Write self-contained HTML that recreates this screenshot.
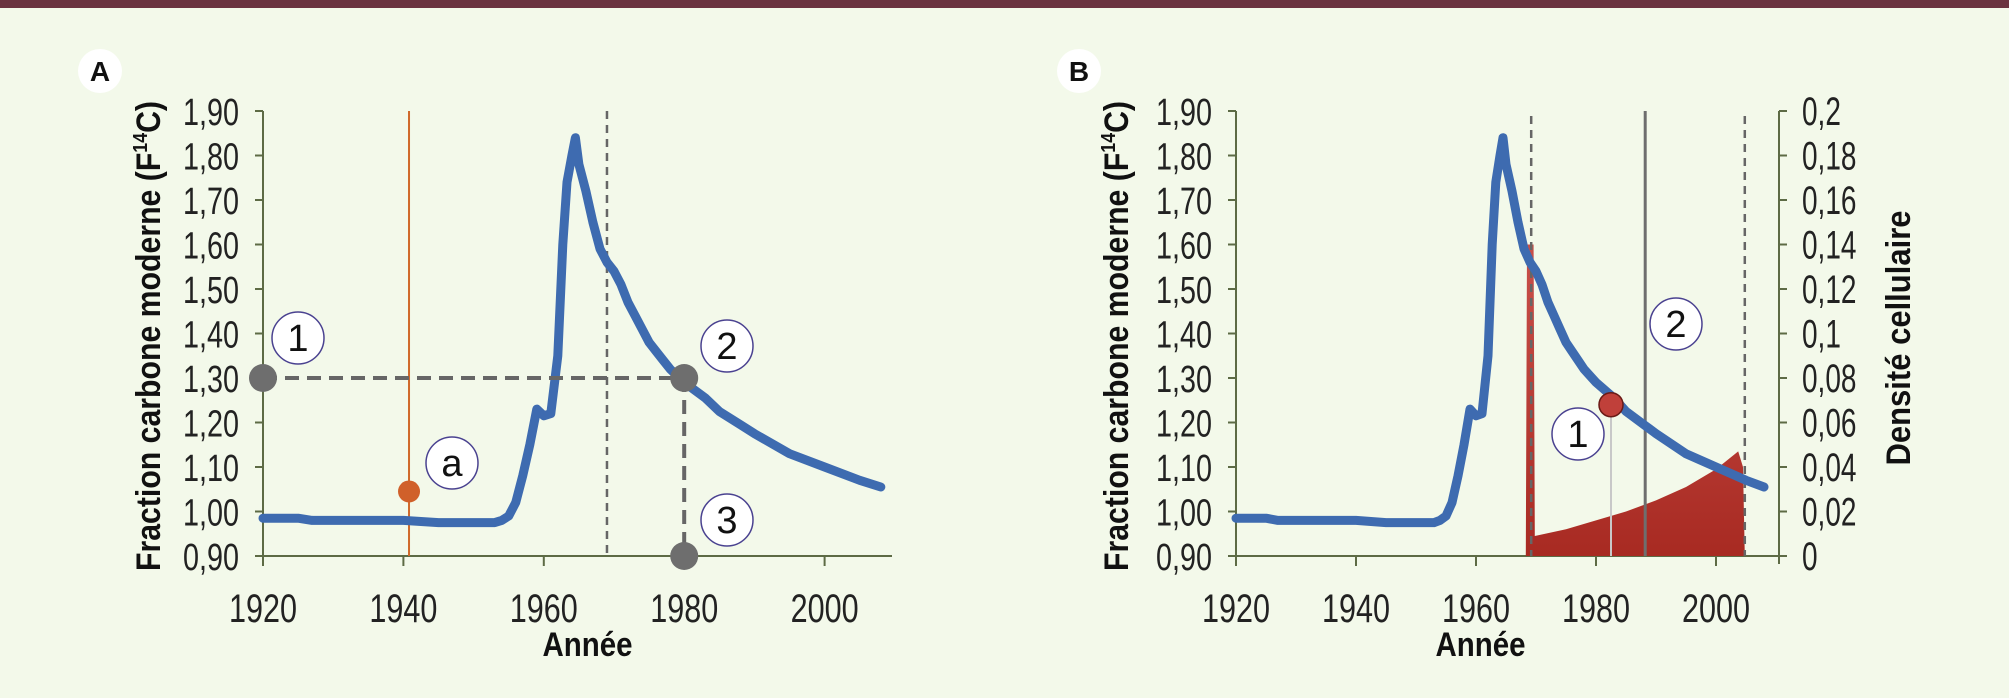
<!DOCTYPE html>
<html><head><meta charset="utf-8"><style>
html,body{margin:0;padding:0;background:#f3f9ea;}
svg{display:block;}
text{font-family:"Liberation Sans Narrow","Liberation Sans",sans-serif;}
</style></head><body>
<svg id="fig" width="2009" height="698" viewBox="0 0 2009 698" xmlns="http://www.w3.org/2000/svg">
<rect x="0" y="0" width="2009" height="698" fill="#f3f9ea"/>
<rect x="0" y="0" width="2009" height="8" fill="#6b3440"/>
</svg>
<script>
const years=[1920,1925,1927,1935,1940,1945,1950,1953,1954,1955,1956,1957,1958,1959,1960,1961,1962,1962.7,1963.3,1964,1964.5,1965,1966,1967,1968,1969,1970,1971,1972,1973,1974,1975,1976,1977,1978,1980,1983,1985,1988,1990,1995,2000,2005,2008];
const f14c=[0.985,0.985,0.98,0.98,0.98,0.975,0.975,0.975,0.98,0.99,1.02,1.08,1.15,1.23,1.215,1.22,1.35,1.60,1.74,1.80,1.84,1.78,1.72,1.65,1.59,1.56,1.54,1.51,1.47,1.44,1.41,1.38,1.36,1.34,1.32,1.29,1.255,1.225,1.195,1.175,1.13,1.10,1.07,1.055];
const densYears=[1968.3,1968.5,1969.6,1969.8,1975,1980,1985,1990,1995,2000,2003.7,2004.5,2004.8];
const densVals=[0,0.14,0.14,0.009,0.012,0.016,0.02,0.025,0.031,0.039,0.047,0.04,0];
const yTicks=["0,90","1,00","1,10","1,20","1,30","1,40","1,50","1,60","1,70","1,80","1,90"];
const yTickVals=[0.9,1.0,1.1,1.2,1.3,1.4,1.5,1.6,1.7,1.8,1.9];
const xTicks=[1920,1940,1960,1980,2000];
const rTicks=["0","0,02","0,04","0,06","0,08","0,1","0,12","0,14","0,16","0,18","0,2"];
const rTickVals=[0,0.02,0.04,0.06,0.08,0.1,0.12,0.14,0.16,0.18,0.2];

const NS="http://www.w3.org/2000/svg";
const svg=document.getElementById('fig');
function mk(tag,attrs,parent,txt){const e=document.createElementNS(NS,tag);for(const k in attrs)e.setAttribute(k,attrs[k]);if(txt!==undefined)e.textContent=txt;(parent||svg).appendChild(e);return e;}
const AX="#5d6b45";
const Y0=556,Y1=111;
function yS(v){return Y0-(v-0.9)/1.0*(Y0-Y1);}
function yR(v){return Y0-v/0.2*(Y0-Y1);}

function panel(name,x0,pxy,xEnd,rightAxis){
  const g=mk('g',{});
  
  
  const xS=y=>x0+(y-1920)*pxy;
  const ya=mk('line',{x1:x0,y1:Y1,x2:x0,y2:Y0+8,stroke:AX,'stroke-width':2},g);
  
  const xa=mk('line',{x1:x0-8,y1:Y0,x2:xEnd,y2:Y0,stroke:AX,'stroke-width':2},g);
  
  yTickVals.forEach((v,i)=>{
    mk('line',{x1:x0-8,y1:yS(v),x2:x0,y2:yS(v),stroke:AX,'stroke-width':2},g);
    const t=mk('text',{x:x0-24,y:yS(v)+14,'text-anchor':'end','font-size':38,fill:'#222',textLength:56,lengthAdjust:'spacingAndGlyphs'},g,yTicks[i]);
    
  });
  xTicks.forEach(v=>{
    mk('line',{x1:xS(v),y1:Y0,x2:xS(v),y2:Y0+10,stroke:AX,'stroke-width':2},g);
    const t=mk('text',{x:xS(v),y:622,'text-anchor':'middle','font-size':40,fill:'#222',textLength:68,lengthAdjust:'spacingAndGlyphs'},g,String(v));
    
  });
  const xt=mk('text',{x:(x0+xEnd)/2+(rightAxis?-30:10),y:656,'text-anchor':'middle','font-size':34,'font-weight':'bold',fill:'#111',textLength:90,lengthAdjust:'spacingAndGlyphs'},g,'Année');
  
  const tx=rightAxis?1116:148;
  const yt=mk('text',{x:0,y:0,transform:`translate(${tx+12},336) rotate(-90)`,'text-anchor':'middle','font-size':34,'font-weight':'bold',fill:'#111',textLength:470,lengthAdjust:'spacingAndGlyphs'},g);
  
  yt.appendChild(document.createTextNode('Fraction carbone moderne (F'));
  mk('tspan',{'font-size':20,dy:-13},yt,'14');
  mk('tspan',{dy:13},yt,'C)');
  return {g,xS};
}

function curve(g,xS){
  const d=years.map((y,i)=>(i?'L':'M')+xS(y).toFixed(1)+','+yS(f14c[i]).toFixed(1)).join(' ');
  const p=mk('path',{d,fill:'none',stroke:'#3e6bb0','stroke-width':9,'stroke-linejoin':'round','stroke-linecap':'round'},g);
  
}
function circLabel(g,cx,cy,txt,name){
  const c=mk('circle',{cx,cy,r:26,fill:'#fff',stroke:'#4a4290','stroke-width':1.5},g);
  
  mk('text',{x:cx,y:cy+13,'text-anchor':'middle','font-size':38,fill:'#111'},g,txt);
}
function panelLetter(cx,txt){
  const c=mk('circle',{cx,cy:71,r:22,fill:'#fff'});
  
  mk('text',{x:cx,y:81,'text-anchor':'middle','font-size':28,'font-weight':'bold',fill:'#111'},svg,txt);
}

// Panel A
panelLetter(100,'A');
const A=panel('a',263,7.02,892,false);
const gA=A.g,xA=A.xS;
let l=mk('line',{x1:xA(1940.8),y1:Y1,x2:xA(1940.8),y2:Y0,stroke:'#d0692a','stroke-width':2},gA);

l=mk('line',{x1:xA(1969),y1:Y1,x2:xA(1969),y2:Y0,stroke:'#666','stroke-width':2.5,'stroke-dasharray':'8,6'},gA);

curve(gA,xA);
l=mk('line',{x1:xA(1920),y1:yS(1.3),x2:xA(1980),y2:yS(1.3),stroke:'#666','stroke-width':4,'stroke-dasharray':'14,8'},gA);

l=mk('line',{x1:xA(1980),y1:yS(1.3),x2:xA(1980),y2:Y0,stroke:'#666','stroke-width':4,'stroke-dasharray':'14,8'},gA);

[[1920,1.3],[1980,1.3],[1980,0.9]].forEach(p=>{
  const c=mk('circle',{cx:xA(p[0]),cy:yS(p[1]),r:14,fill:'#6e6e6e'},gA);
  
});
let od=mk('circle',{cx:xA(1940.8),cy:yS(1.045),r:11,fill:'#d0602a'},gA);

circLabel(gA,298,338,'1','callout-1');
circLabel(gA,727,346,'2','callout-2');
circLabel(gA,727,520,'3','callout-3');
circLabel(gA,452,463,'a','callout-a');

// Panel B
panelLetter(1079,'B');
const B=panel('b',1236,6.0,1785,true);
const gB=B.g,xB=B.xS;
const ra=mk('line',{x1:1779,y1:Y1,x2:1779,y2:Y0+8,stroke:AX,'stroke-width':2},gB);

rTickVals.forEach((v,i)=>{
  mk('line',{x1:1779,y1:yR(v),x2:1787,y2:yR(v),stroke:AX,'stroke-width':2},gB);
  const t=mk('text',{x:1802,y:yR(v)+14,'font-size':40,fill:'#222'},gB,rTicks[i]);
  t.setAttribute('transform',`translate(${1802*0.3},0) scale(0.7,1)`);
  
});
const rt=mk('text',{x:0,y:0,transform:'translate(1910,338) rotate(-90)','text-anchor':'middle','font-size':34,'font-weight':'bold',fill:'#111',textLength:255,lengthAdjust:'spacingAndGlyphs'},gB,'Densité cellulaire');

const defs=mk('defs',{});
const gr=mk('linearGradient',{id:'rg',x1:0,y1:0,x2:0,y2:1},defs);
mk('stop',{offset:0,'stop-color':'#c9504a'},gr);mk('stop',{offset:1,'stop-color':'#a82a22'},gr);
const ad='M'+densYears.map((y,i)=>xB(y).toFixed(1)+','+yR(densVals[i]).toFixed(1)).join(' L')+' Z';
const area=mk('path',{d:ad,fill:'url(#rg)'},gB);

l=mk('line',{x1:xB(1969.2),y1:Y1+5,x2:xB(1969.2),y2:Y0,stroke:'#666','stroke-width':2.5,'stroke-dasharray':'8,6'},gB);

l=mk('line',{x1:xB(2004.8),y1:Y1+5,x2:xB(2004.8),y2:Y0,stroke:'#666','stroke-width':2.5,'stroke-dasharray':'8,6'},gB);

l=mk('line',{x1:xB(1988.2),y1:Y1,x2:xB(1988.2),y2:Y0,stroke:'#6e6e6e','stroke-width':3},gB);

curve(gB,xB);
l=mk('line',{x1:xB(1982.5),y1:yS(1.24),x2:xB(1982.5),y2:Y0,stroke:'#c8c8c8','stroke-width':2},gB);

const rd=mk('circle',{cx:xB(1982.5),cy:yS(1.24),r:12,fill:'#c0403a',stroke:'#6a1a16','stroke-width':1.5},gB);

circLabel(gB,1578,434,'1','callout-b1');
circLabel(gB,1676,324,'2','callout-b2');
</script>
</body></html>
